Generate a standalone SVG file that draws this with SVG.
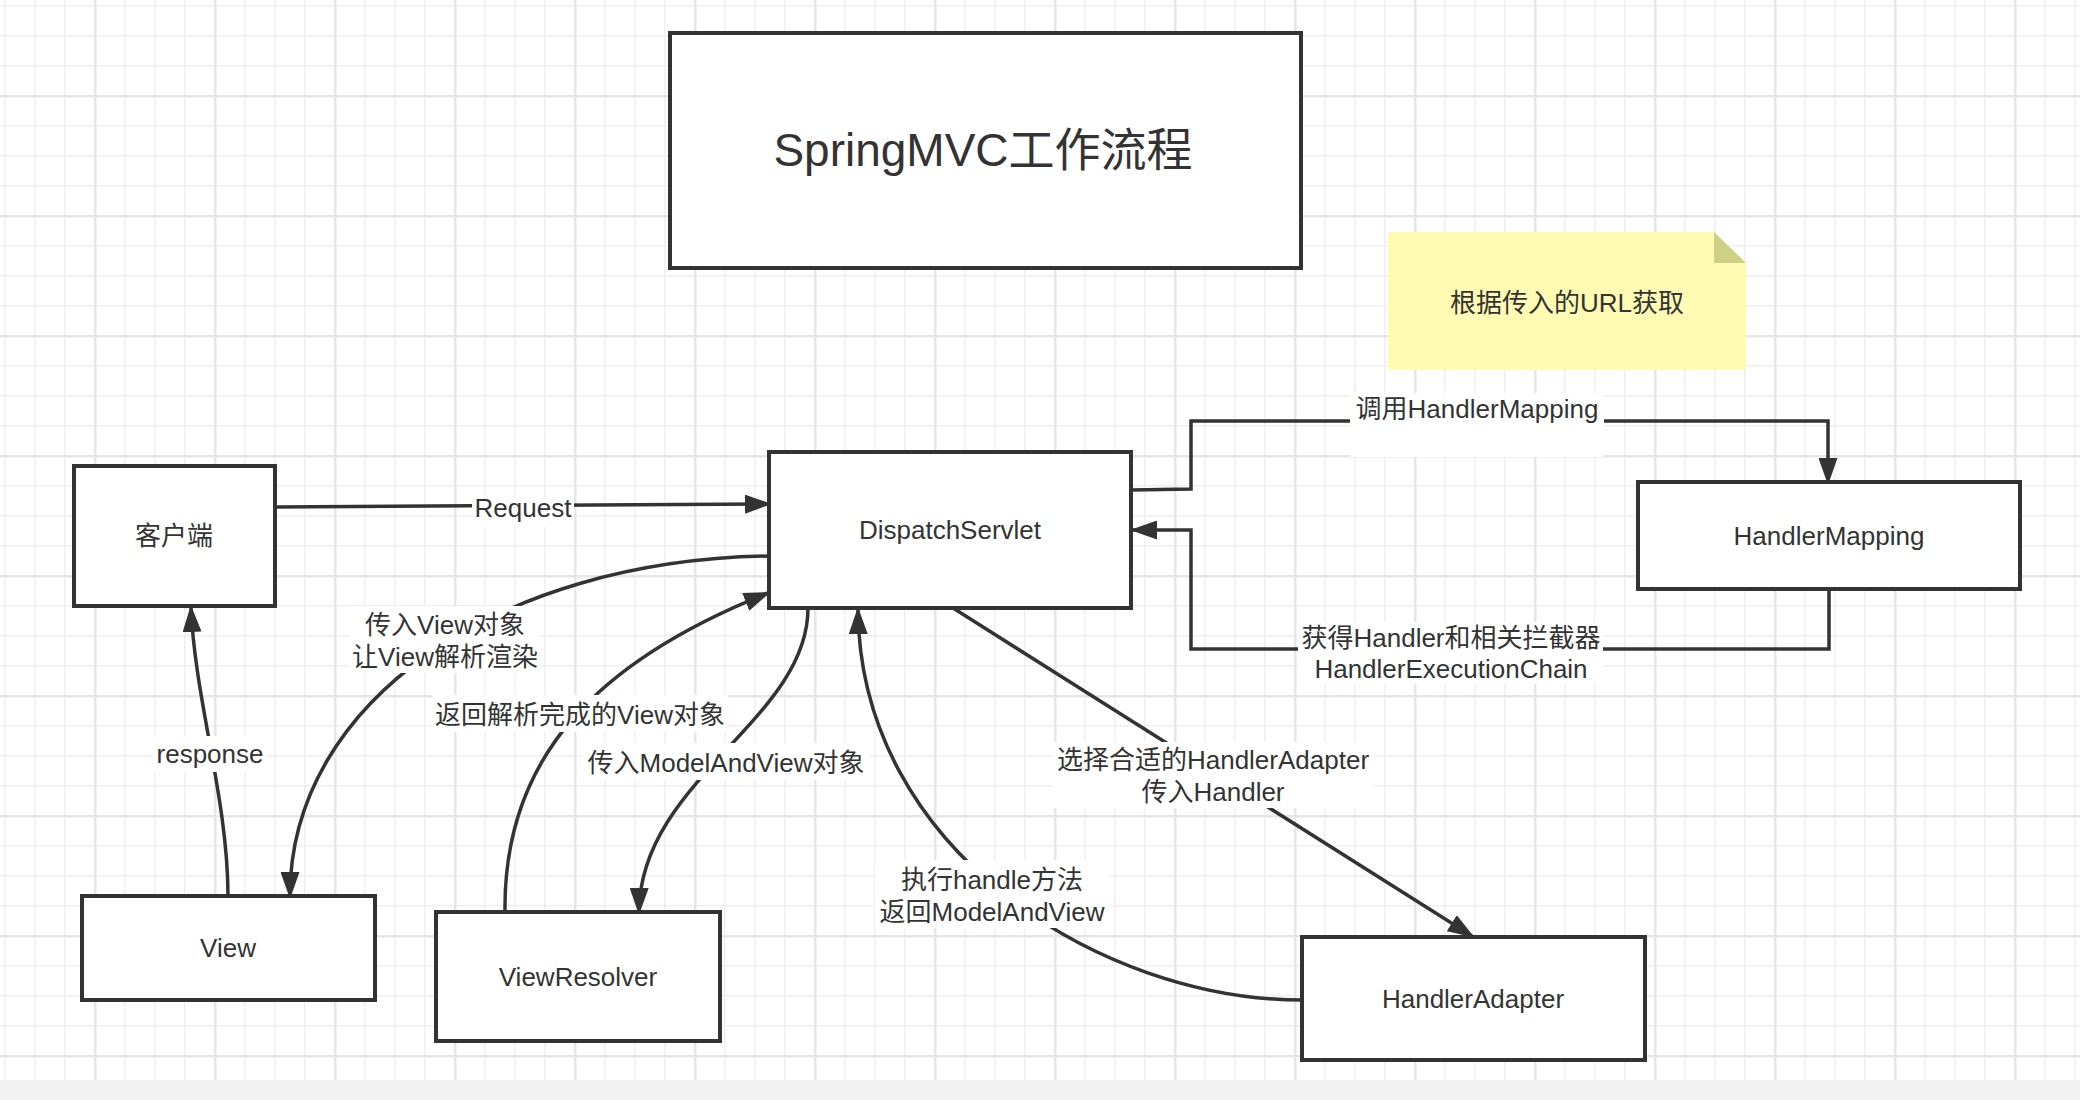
<svg xmlns="http://www.w3.org/2000/svg" width="2080" height="1100" viewBox="0 0 2080 1100">
<defs>
<pattern id="minor" patternUnits="userSpaceOnUse" x="4" y="5" width="30" height="30">
<rect x="0" y="0" width="30" height="1.5" fill="#efefef"/>
<rect x="0" y="0" width="1.5" height="30" fill="#efefef"/>
</pattern>
<pattern id="major" patternUnits="userSpaceOnUse" x="94" y="95" width="120" height="120">
<rect x="0" y="0" width="120" height="2.5" fill="#e6e6e6"/>
<rect x="0" y="0" width="2.5" height="120" fill="#e6e6e6"/>
</pattern>
<marker id="arr" viewBox="0 0 27 19" markerWidth="27" markerHeight="19" markerUnits="userSpaceOnUse" refX="24" refY="9.5" orient="auto">
<path d="M0 0 L27 9.5 L0 19 z" fill="#333333"/>
</marker>
</defs>
<style>
.node{fill:#ffffff;stroke:#333333;stroke-width:4}
.t{font-family:"Liberation Sans","Noto Sans CJK SC",sans-serif;font-size:26px;fill:#333333;text-anchor:middle}
.c{fill:none;stroke:#333333;stroke-width:3.5}
.lb{fill:#ffffff}
</style>
<rect x="0" y="0" width="2080" height="1100" fill="#ffffff"/>
<rect x="0" y="0" width="2080" height="1080" fill="url(#minor)"/>
<rect x="0" y="0" width="2080" height="1080" fill="url(#major)"/>
<rect x="0" y="1080" width="2080" height="20" fill="#f2f2f2"/>

<g id="title">
<rect class="node" x="670" y="33" width="631" height="235"/>
<text class="t" x="983" y="166" style="font-size:46px">SpringMVC工作流程</text>
</g>

<g id="note">
<path d="M1388 232 H1714 L1746 263 V370 H1388 z" fill="#fffbb3"/>
<path d="M1714 232 L1746 263 H1714 z" fill="#cfcf85"/>
<text class="t" x="1567" y="312">根据传入的URL获取</text>
</g>

<g id="connectors">
<path class="c" d="M275 507 L769 504" marker-end="url(#arr)"/>
<path class="c" d="M1131 490 L1191 489 L1191 421 L1828 421 L1828 482" marker-end="url(#arr)"/>
<path class="c" d="M1829 589 L1829 649 L1191 649 L1191 530 L1133 530" marker-end="url(#arr)"/>
<path class="c" d="M769 556 C500 560 290 700 290 896" marker-end="url(#arr)"/>
<path class="c" d="M228 896 C228 800 195 700 191 608" marker-end="url(#arr)"/>
<path class="c" d="M505 912 C503 755 600 660 768 593" marker-end="url(#arr)"/>
<path class="c" d="M808 608 C808 720 640 780 639 912" marker-end="url(#arr)"/>
<path class="c" d="M1302 1000 C1100 1000 860 850 858 610" marker-end="url(#arr)"/>
<path class="c" d="M953 608 L1472 936" marker-end="url(#arr)"/>
</g>

<g id="labels">
<rect class="lb" x="472" y="498" width="102" height="29"/>
<text class="t" x="523" y="517">Request</text>
<rect class="lb" x="1350" y="393" width="254" height="64"/>
<text class="t" x="1477" y="418">调用HandlerMapping</text>
<rect class="lb" x="1298" y="622" width="305" height="62"/>
<text class="t" x="1451" y="647">获得Handler和相关拦截器</text>
<text class="t" x="1451" y="678">HandlerExecutionChain</text>
<rect class="lb" x="350" y="606" width="190" height="67"/>
<text class="t" x="445" y="634">传入View对象</text>
<text class="t" x="445" y="666">让View解析渲染</text>
<rect class="lb" x="153" y="736" width="113" height="36"/>
<text class="t" x="210" y="763">response</text>
<rect class="lb" x="432" y="695" width="296" height="37"/>
<text class="t" x="580" y="724">返回解析完成的View对象</text>
<rect class="lb" x="582" y="743" width="287" height="37"/>
<text class="t" x="726" y="772">传入ModelAndView对象</text>
<rect class="lb" x="875" y="860" width="235" height="68"/>
<text class="t" x="992" y="889">执行handle方法</text>
<text class="t" x="992" y="921">返回ModelAndView</text>
<rect class="lb" x="1053" y="742" width="321" height="66"/>
<text class="t" x="1213" y="769">选择合适的HandlerAdapter</text>
<text class="t" x="1213" y="801">传入Handler</text>
</g>

<g id="client">
<rect class="node" x="74" y="466" width="201" height="140"/>
<text class="t" x="174" y="545">客户端</text>
</g>
<g id="dispatchservlet">
<rect class="node" x="769" y="452" width="362" height="156"/>
<text class="t" x="950" y="539">DispatchServlet</text>
</g>
<g id="handlermapping">
<rect class="node" x="1638" y="482" width="382" height="107"/>
<text class="t" x="1829" y="545">HandlerMapping</text>
</g>
<g id="view">
<rect class="node" x="82" y="896" width="293" height="104"/>
<text class="t" x="228" y="957">View</text>
</g>
<g id="viewresolver">
<rect class="node" x="436" y="912" width="284" height="129"/>
<text class="t" x="578" y="986">ViewResolver</text>
</g>
<g id="handleradapter">
<rect class="node" x="1302" y="937" width="343" height="123"/>
<text class="t" x="1473" y="1008">HandlerAdapter</text>
</g>
</svg>
